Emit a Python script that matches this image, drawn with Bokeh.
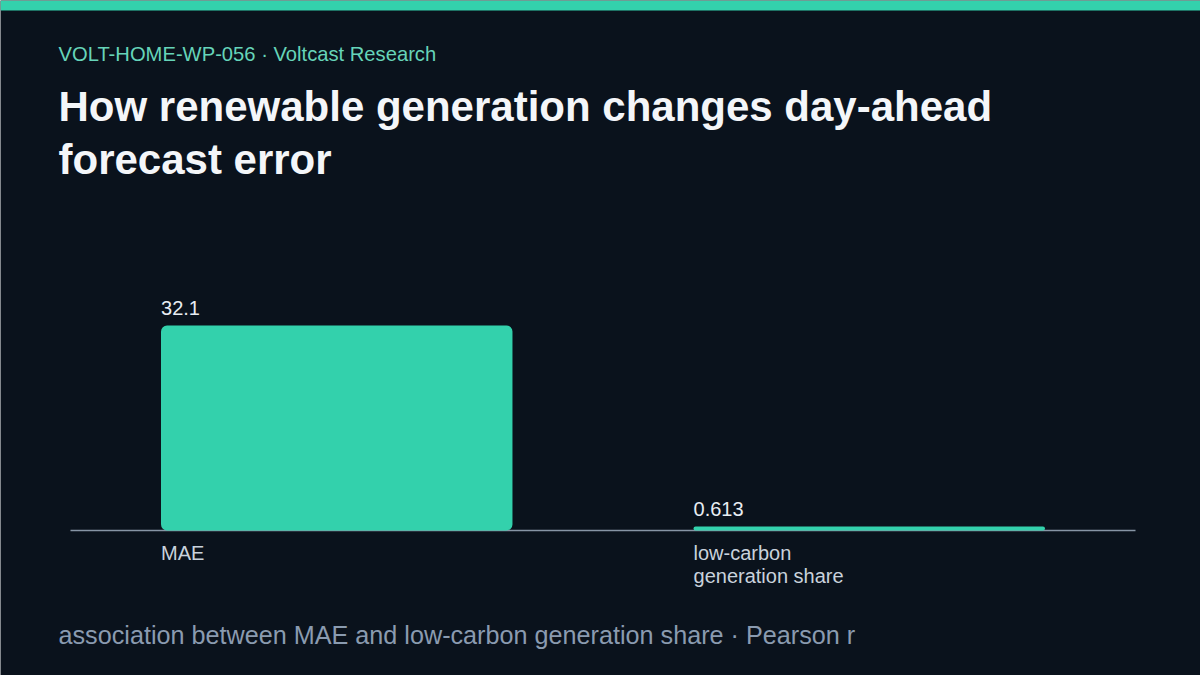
from bokeh.plotting import figure
from bokeh.models import Range1d, Label
from bokeh.core.properties import value
from bokeh.embed import file_html
from bokeh.resources import INLINE

# data
categories = ["MAE", "low-carbon generation share"]
tick_labels = ["MAE", "low-carbon\ngeneration share"]
values = [32.1, 0.613]
value_labels = [f"{v:g}" for v in values]

kicker = "VOLT-HOME-WP-056 \u00b7 Voltcast Research"
title_lines = ["How renewable generation changes day-ahead", "forecast error"]
footer = "association between MAE and low-carbon generation share \u00b7 Pearson r"

W, H = 1200, 675
BG = "#0a121c"
TEAL = "#33d1ac"
FONT = "Liberation Sans"

# plot area geometry (pixels inside the canvas)
band_px = 532.5          # width of one category band
axis_left = 70           # where the first band starts
baseline_px = 530        # y of the zero line
px_per_unit = 205 / max(values)
bar_width = 0.66

x0 = -0.5 - axis_left / band_px
x1 = x0 + W / band_px
y1 = baseline_px / px_per_unit
y0 = y1 - H / px_per_unit


def dx(px):
    return x0 + px / band_px


def dy(py):
    return y1 - py / px_per_unit


p = figure(width=W, height=H, x_range=Range1d(x0, x1), y_range=Range1d(y0, y1),
           output_backend="svg", toolbar_location=None,
           x_axis_location=None, y_axis_location=None, min_border=0,
           background_fill_color=BG, border_fill_color=BG, outline_line_color=None)
p.grid.grid_line_color = None

idx = list(range(len(categories)))
lefts = [i - bar_width / 2 for i in idx]

# top accent band
p.quad(left=x0, right=x1, top=y1, bottom=dy(10), color=TEAL, line_color=None)

# zero line across the category bands
p.segment(x0=-0.5, x1=len(categories) - 0.5, y0=0, y1=0, line_color="#8795a5", line_width=1.5)

p.vbar(x=idx, top=values, bottom=0, width=bar_width, color=TEAL, line_color=None,
       border_radius=6)

p.text(x=lefts, y=values, text=value_labels, y_offset=-25, text_baseline="top",
       text_align="left", text_font=value(FONT), text_font_size="20px", text_color="#e8edf2")

p.text(x=lefts, y=[0] * len(idx), text=tick_labels, y_offset=11, text_baseline="top",
       text_align="left", text_font=value(FONT), text_font_size="20px", text_color="#c9d2dc",
       text_line_height=1.06)

p.add_layout(Label(x=dx(58), y=dy(42), text=kicker, text_font=FONT, text_font_size="20.2px",
                   text_color="#66d4b9", text_baseline="top"))
for line, top in zip(title_lines, [82, 135]):
    p.add_layout(Label(x=dx(58), y=dy(top), text=line, text_font=FONT, text_font_size="42px",
                       text_font_style="bold", text_color="#f4f6f9", text_baseline="top"))
p.add_layout(Label(x=dx(58), y=dy(620), text=footer, text_font=FONT, text_font_size="25.2px",
                   text_color="#8a9bb0", text_baseline="top"))

open("out.html", "w").write(file_html(p, INLINE))
